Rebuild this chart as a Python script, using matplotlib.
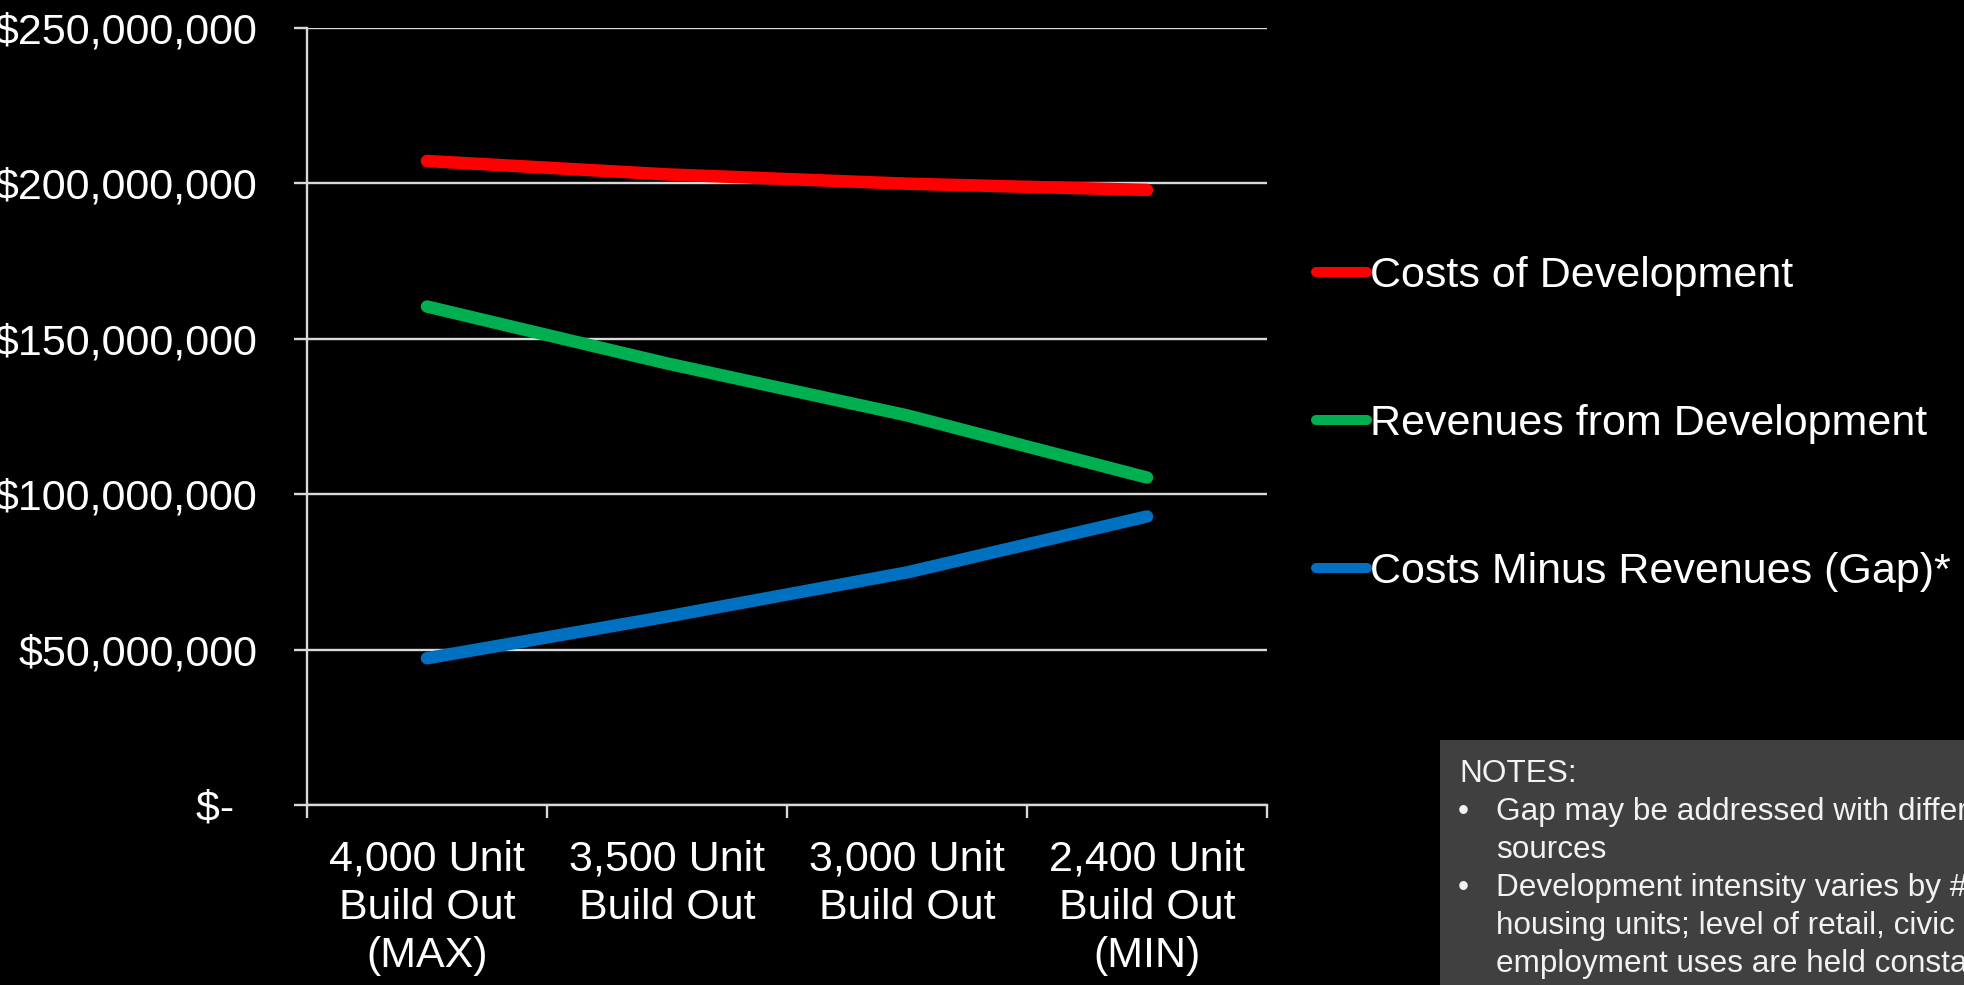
import matplotlib
matplotlib.use('Agg')
import matplotlib.pyplot as plt
from matplotlib.ticker import FixedLocator, FuncFormatter
from matplotlib.patches import Rectangle

# values (dollars)
categories = ['4,000 Unit\nBuild Out\n(MAX)', '3,500 Unit\nBuild Out',
              '3,000 Unit\nBuild Out', '2,400 Unit\nBuild Out\n(MIN)']
costs = [207.1e6, 202.8e6, 199.8e6, 197.8e6]
revenues = [160.3e6, 142.0e6, 125.3e6, 105.3e6]
gap = [47.2e6, 60.6e6, 74.8e6, 92.8e6]

series_names = ['Costs of Development', 'Revenues from Development',
                'Costs Minus Revenues (Gap)*']
series_colors = ['#FF0000', '#00B050', '#0070C0']

notes_title = 'NOTES:'
notes_bullets = [['Gap may be addressed with different funding', 'sources'],
                 ['Development intensity varies by # of',
                  'housing units; level of retail, civic and',
                  'employment uses are held constant']]

plt.rcParams['font.family'] = ['Liberation Sans', 'DejaVu Sans']
fg = '#FFFFFF'
grid_c = '#D9D9D9'
W, H = 1965, 985

fig = plt.figure(figsize=(19.65, 9.85), dpi=100, facecolor='black')
ax = fig.add_axes([307 / W, 1 - 805 / H, 960 / W, 777.4 / H])
ax.set_facecolor('black')

x = list(range(len(categories)))
handles = []
for vals, name, col in zip([costs, revenues, gap], series_names, series_colors):
    h, = ax.plot(x, vals, color=col, lw=9, solid_capstyle='round',
                 solid_joinstyle='round', label=name, zorder=3)
    handles.append(h)

ax.set_xlim(-0.5, len(categories) - 0.5)
ax.set_ylim(0, 250e6)

# y axis
ax.yaxis.set_major_locator(FixedLocator([0, 50e6, 100e6, 150e6, 200e6, 250e6]))
ax.yaxis.set_major_formatter(FuncFormatter(
    lambda v, p: '$-  ' if v == 0 else '${:,.0f}'.format(v)))
ax.grid(axis='y', color=grid_c, lw=1.7, zorder=1)
ax.tick_params(axis='y', direction='out', length=9.4, width=1.7, color=grid_c,
               labelsize=31, labelcolor=fg, pad=26)

# x axis: boundary ticks, labels centred
ax.xaxis.set_major_locator(FixedLocator([i - 0.5 for i in range(len(categories) + 1)]))
ax.xaxis.set_major_formatter(FuncFormatter(lambda v, p: ''))
ax.xaxis.set_minor_locator(FixedLocator(x))
ax.set_xticklabels(categories, minor=True)
ax.tick_params(axis='x', which='major', direction='out', length=9.4, width=1.7, color=grid_c)
ax.tick_params(axis='x', which='minor', length=0, labelsize=31, labelcolor=fg, pad=25)
for t in ax.get_xticklabels(minor=True):
    t.set_linespacing(1.26)

for s in ['top', 'right']:
    ax.spines[s].set_visible(False)
for s in ['left', 'bottom']:
    ax.spines[s].set_color(grid_c)
    ax.spines[s].set_linewidth(1.7)

leg = fig.legend(handles=handles, loc='center left',
                 bbox_to_anchor=(1316 / W, 1 - 424 / H),
                 frameon=False, fontsize=31, handlelength=1.19, handletextpad=0.07,
                 labelspacing=2.51, borderpad=0, borderaxespad=0)
for t in leg.get_texts():
    t.set_color(fg)
for ln in leg.get_lines():
    ln.set_linewidth(7.2)

# notes box
fig.patches.append(Rectangle((1440 / W, 0), 1 - 1440 / W, 1 - 740 / H,
                             transform=fig.transFigure, facecolor='#404040',
                             edgecolor='none', zorder=0))
note_c = '#F2F2F2'
fig.text(1459 / W, 1 - 782 / H, notes_title, color=note_c, fontsize=22.7,
         va='baseline', ha='left')
base = 820
for bullet in notes_bullets:
    fig.text(1458 / W, 1 - base / H, '\u2022', color=note_c, fontsize=22.7,
             va='baseline', ha='left')
    for line in bullet:
        fig.text(1496 / W, 1 - base / H, line, color=note_c, fontsize=22.7,
                 va='baseline', ha='left')
        base += 38

fig.savefig('out.png', dpi=100, facecolor='black')
